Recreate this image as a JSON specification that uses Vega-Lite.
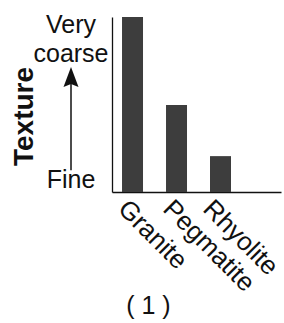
{
  "$schema": "https://vega.github.io/schema/vega-lite/v6.json",
  "background": "white",
  "padding": {"left": 10, "top": 13, "right": 0, "bottom": 0},
  "config": {
    "view": {"stroke": null},
    "font": "Liberation Sans",
    "concat": {"spacing": 0}
  },
  "title": {"text": "( 1 )", "orient": "bottom", "fontSize": 25, "fontWeight": "normal", "font": "Liberation Sans", "color": "#111", "frame": "bounds", "anchor": "middle", "dx": 2, "offset": -2},
  "bounds": "flush",
  "spacing": 0,
  "hconcat": [
    {
      "width": 82,
      "height": 175,
      "layer": [
        {
          "data": {"values": [{"label": "Very coarse", "level": 10}]},
          "mark": {"type": "text", "fontSize": 25, "baseline": "top", "align": "center", "lineBreak": " ", "lineHeight": 28.5, "dy": -4, "color": "#111"},
          "encoding": {
            "x": {"datum": 0.5, "type": "quantitative", "scale": {"domain": [0, 1]}, "axis": null},
            "y": {"field": "level", "type": "quantitative", "scale": {"domain": [0, 10], "nice": false},
                  "axis": {"title": "Texture", "titleFontSize": 28, "titleFontWeight": "bold", "titleColor": "#111", "titleFont": "Liberation Sans", "titleAngle": 270, "titleBaseline": "alphabetic", "titleAlign": "center", "titleX": 2.3, "titleY": 99, "domain": false, "ticks": false, "labels": false, "grid": false}},
            "text": {"field": "label"}
          }
        },
        {
          "data": {"values": [{"label": "Fine", "level": 0}]},
          "mark": {"type": "text", "fontSize": 25, "baseline": "alphabetic", "align": "center", "dy": -4, "color": "#111"},
          "encoding": {
            "x": {"datum": 0.5, "type": "quantitative"},
            "y": {"field": "level", "type": "quantitative"},
            "text": {"field": "label"}
          }
        },
        {
          "data": {"values": [{"from": 1.25, "to": 6.2}]},
          "mark": {"type": "rule", "strokeWidth": 1.5, "color": "#111"},
          "encoding": {
            "x": {"datum": 0.5, "type": "quantitative"},
            "y": {"field": "from", "type": "quantitative"},
            "y2": {"field": "to"}
          }
        },
        {
          "data": {"values": [{"tip": 7.14}]},
          "mark": {"type": "point", "filled": true, "shape": "M0,0L0.75,2L0,1.7L-0.75,2Z", "size": 400, "color": "#111", "opacity": 1},
          "encoding": {
            "x": {"datum": 0.5, "type": "quantitative"},
            "y": {"field": "tip", "type": "quantitative"}
          }
        }
      ]
    },
    {
      "width": 169,
      "height": 175,
      "data": {"values": [
        {"rock": "Granite", "texture": 10},
        {"rock": "Pegmatite", "texture": 4.97},
        {"rock": "Rhyolite", "texture": 2.05}
      ]},
      "mark": {"type": "bar", "color": "#3d3d3d"},
      "encoding": {
        "x": {"field": "rock", "type": "nominal", "sort": null,
              "scale": {"paddingInner": 0.523, "paddingOuter": 0.682, "align": 0.167},
              "axis": {"title": null, "labelAngle": 45, "labelAlign": "left", "labelBaseline": "top", "labelFontSize": 26, "labelFont": "Liberation Sans", "labelColor": "#111", "labelPadding": 3,
                       "labelOffset": {"condition": [{"test": "datum.value === 'Granite'", "value": -1}, {"test": "datum.value === 'Pegmatite'", "value": 0}], "value": -4},
                       "ticks": false, "domainColor": "#111", "domainWidth": 1.3, "grid": false}},
        "y": {"field": "texture", "type": "quantitative", "scale": {"domain": [0, 10], "nice": false},
              "axis": {"title": null, "labels": false, "ticks": false, "grid": false, "domainColor": "#111", "domainWidth": 1.3}}
      }
    }
  ]
}
